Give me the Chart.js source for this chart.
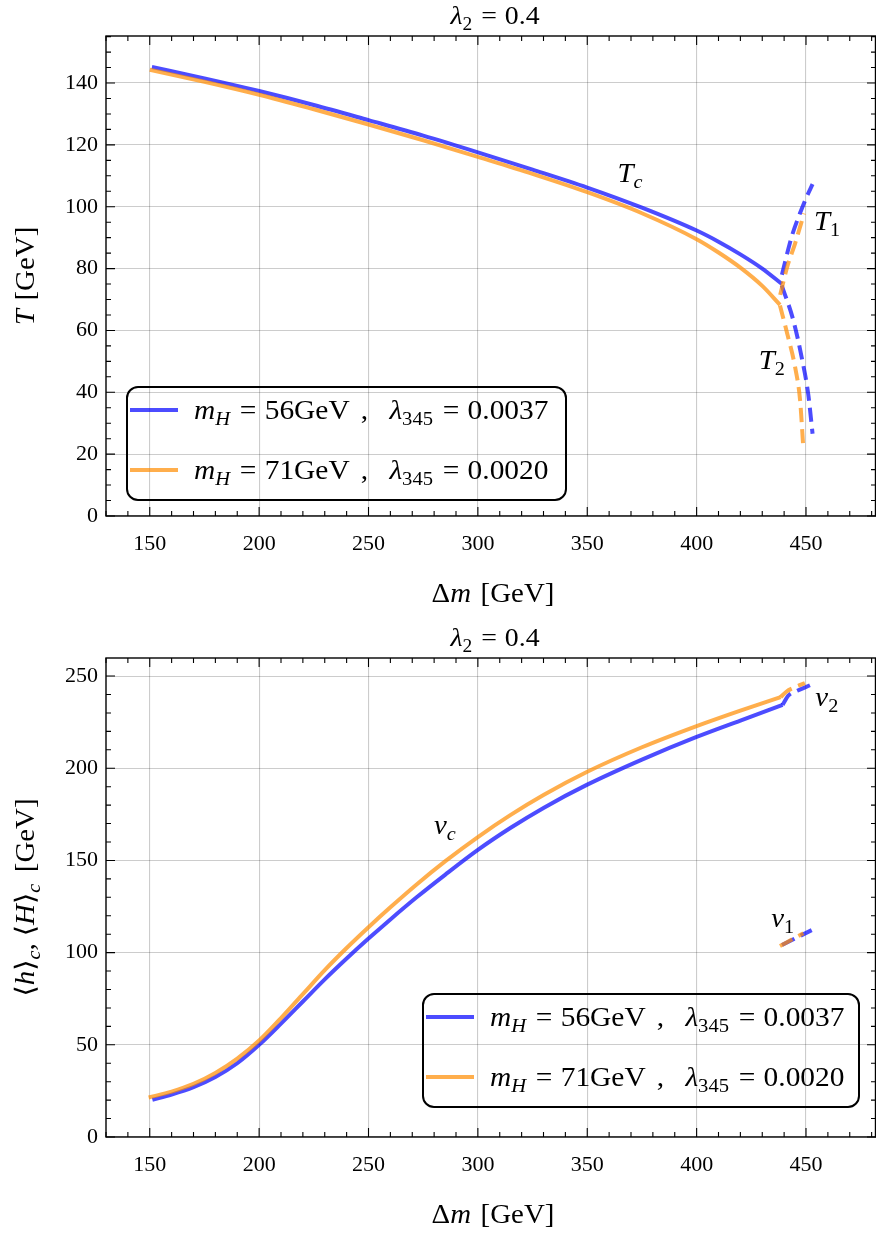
<!DOCTYPE html>
<html><head><meta charset="utf-8">
<script src="https://cdn.jsdelivr.net/npm/chart.js@4.4.1/dist/chart.umd.min.js"></script>
<style>html,body{margin:0;padding:0;background:#fff;}canvas{display:block;}</style>
</head><body>
<canvas id="c1" width="876" height="617"></canvas>
<canvas id="c2" width="876" height="617"></canvas>
<script>
// ---------- data ----------
const xTicks = [150, 200, 250, 300, 350, 400, 450];
const yTicksTop = [0, 20, 40, 60, 80, 100, 120, 140];
const yTicksBot = [0, 50, 100, 150, 200, 250];
const seriesMass = ['56', '71'];
const seriesLambda = ['0.0037', '0.0020'];

// top panel: critical temperature Tc (solid), T1 / T2 (dashed)
const dmTcBlue = [151, 175, 200, 225, 250, 275, 300, 325, 350, 375, 400, 410, 420, 430, 439];
const TcBlue   = [145.2, 141.5, 137.4, 132.9, 128.0, 123.0, 117.6, 112.0, 106.2, 99.7, 92.3, 88.7, 84.6, 80.0, 75.0];
const dmTcOrange = [150, 175, 200, 225, 250, 275, 300, 325, 350, 375, 400, 410, 420, 430, 438.1];
const TcOrange   = [144.3, 140.4, 136.2, 131.5, 126.6, 121.5, 116.1, 110.6, 104.7, 97.9, 89.5, 85.2, 80.3, 74.4, 68.3];
const dmT1Blue = [439.0, 443.4, 447.2, 450.3, 453.0];
const T1Blue   = [78.0, 90.2, 97.8, 103.2, 107.3];
const dmT1Orange = [438.2, 441.4, 445.0, 449.1];
const T1Orange   = [71.5, 80.5, 88.1, 97.8];
const dmT2Blue = [438.9, 444.2, 448.0, 451.0, 453.0];
const T2Blue   = [74.6, 63.3, 51.4, 39.5, 26.6];
const dmT2Orange = [438.1, 441.4, 445.0, 447.3, 448.8];
const T2Orange   = [68.1, 59.0, 48.2, 37.4, 21.7];

// bottom panel: vc (solid), v1 / v2 (dashed)
const dmVcBlue = [151.2, 160, 170, 180, 190, 200, 210, 220, 230, 240, 250, 260, 272, 285, 300, 315, 330, 350, 375, 400, 420, 439.3];
const VcBlue   = [20.2, 23.0, 27.0, 32.5, 40.0, 50.0, 61.5, 73.5, 85.5, 96.8, 107.6, 118.0, 130.0, 142.2, 155.7, 167.7, 178.5, 191.1, 204.7, 217.0, 225.9, 234.4];
const dmVcOrange = [149.5, 160, 170, 180, 190, 200, 210, 220, 230, 240, 250, 260, 272, 285, 300, 315, 330, 350, 375, 400, 420, 438.4];
const VcOrange   = [21.4, 24.6, 28.8, 34.7, 42.5, 52.3, 64.5, 77.5, 90.5, 102.5, 113.8, 124.6, 137.0, 149.5, 162.7, 174.7, 185.5, 198.1, 211.4, 222.9, 231.3, 238.6];
const dmV2Blue = [439.3, 442.0, 446.0, 451.8];
const V2Blue   = [234.4, 239.5, 242.0, 245.0];
const dmV2Orange = [438.4, 441.0, 445.0, 449.5];
const V2Orange   = [238.6, 241.5, 244.0, 246.2];
const dmV1Blue = [439.0, 452.6];
const V1Blue   = [104.1, 112.2];
const dmV1Orange = [438.1, 448.8];
const V1Orange   = [103.6, 110.5];

// ---------- style ----------
const BLUE = 'rgba(0,0,255,0.7)';
const ORANGE = 'rgba(255,140,0,0.7)';
const FONT = '"Liberation Serif", "DejaVu Serif", serif';
const HK = 1.07; // horizontal widening to mimic Computer Modern proportions
const zip = (xs, ys) => xs.map((x, i) => ({x: x, y: ys[i]}));

function ds(label, xs, ys, color, dashed, order) {
  return {
    label: label, data: zip(xs, ys), borderColor: color, backgroundColor: color,
    borderWidth: 4, pointRadius: 0, borderDash: dashed ? [14, 7] : [],
    cubicInterpolationMode: 'monotone', fill: false, order: order
  };
}

function segW(ctx, s, size) {
  if (s.g !== undefined) return s.g * size;
  const fs = s.sub ? size * 0.7 : size;
  ctx.font = (s.it ? 'italic ' : '') + fs + 'px ' + FONT;
  return ctx.measureText(s.t).width;
}
function drawRich(ctx, segs, x, y, size, align) {
  let w = 0;
  for (const s of segs) w += segW(ctx, s, size);
  w *= HK;
  const x0 = align === 'center' ? x - w / 2 : (align === 'right' ? x - w : x);
  ctx.save();
  ctx.translate(x0, y); ctx.scale(HK, 1);
  ctx.textAlign = 'left'; ctx.textBaseline = 'alphabetic'; ctx.fillStyle = '#000';
  let cx = 0;
  for (const s of segs) {
    const sw = segW(ctx, s, size);
    if (s.g === undefined) ctx.fillText(s.t, cx, s.sub ? size * 0.22 : 0);
    cx += sw;
  }
  ctx.restore();
}
const EQ = [{g: 0.33}, {t: '='}, {g: 0.28}];
function legendSegs(i) {
  return [{t: 'm', it: 1}, {t: 'H', it: 1, sub: 1}].concat(EQ, [{t: seriesMass[i] + 'GeV'}, {g: 0.38}, {t: ','},
          {g: 0.72}, {t: 'λ', it: 1}, {t: '345', sub: 1}], EQ, [{t: seriesLambda[i]}]);
}

const decoPlugin = {
  id: 'deco',
  afterDraw(chart, args, o) {
    const ctx = chart.ctx, a = chart.chartArea;
    const xs = chart.scales.x, ys = chart.scales.y;
    ctx.save();
    // spines
    ctx.strokeStyle = '#000'; ctx.lineWidth = 1.4;
    ctx.strokeRect(a.left, a.top, a.right - a.left - 0.5, a.bottom - a.top);
    // ticks (inward, all four sides)
    ctx.lineWidth = 1.1;
    for (let v = 130; v <= 482; v += 10) {
      const px = xs.getPixelForValue(v);
      const L = v % 50 === 0 ? 9 : 5;
      ctx.beginPath();
      ctx.moveTo(px, a.bottom); ctx.lineTo(px, a.bottom - L);
      ctx.moveTo(px, a.top); ctx.lineTo(px, a.top + L);
      ctx.stroke();
    }
    for (let v = 0; v <= ys.max; v += o.yMinor) {
      const py = ys.getPixelForValue(v);
      const L = v % o.yMajor === 0 ? 9 : 5;
      ctx.beginPath();
      ctx.moveTo(a.left, py); ctx.lineTo(a.left + L, py);
      ctx.moveTo(a.right, py); ctx.lineTo(a.right - L, py);
      ctx.stroke();
    }
    const cxm = (a.left + a.right) / 2, cym = (a.top + a.bottom) / 2;
    // title
    drawRich(ctx, [{t: 'λ', it: 1}, {t: '2', sub: 1}].concat(EQ, [{t: '0.4'}]), cxm + 4, a.top - 12, 26, 'center');
    // x label
    drawRich(ctx, [{t: 'Δ'}, {t: 'm', it: 1}, {g: 0.33}, {t: '[GeV]'}], cxm + 2, a.bottom + 86, 27, 'center');
    // y label
    ctx.save(); ctx.translate(34, cym); ctx.rotate(-Math.PI / 2);
    drawRich(ctx, o.ylabel, 0, 0, 27, 'center');
    ctx.restore();
    // annotations
    for (const an of o.notes) {
      drawRich(ctx, an.segs, xs.getPixelForValue(an.x), ys.getPixelForValue(an.y) + 9, 27, 'center');
    }
    // legend
    const L = o.legend;
    const bx = L.right ? a.right - L.right - L.w : a.left + L.left;
    const by = a.bottom - L.bottom - L.h;
    ctx.beginPath();
    ctx.roundRect(bx, by, L.w, L.h, 11);
    ctx.lineWidth = 2; ctx.strokeStyle = '#000'; ctx.stroke();
    const cols = [BLUE, ORANGE];
    for (let i = 0; i < 2; i++) {
      const ly = by + 23 + i * 60;
      ctx.beginPath(); ctx.strokeStyle = cols[i]; ctx.lineWidth = 4;
      ctx.moveTo(bx + 3, ly); ctx.lineTo(bx + 51, ly); ctx.stroke();
      drawRich(ctx, legendSegs(i), bx + 67, ly + 9, 27.5, 'left');
    }
    ctx.restore();
  }
};

function makeChart(id, datasets, yMax, yTicks, yMinor, yMajor, padTop, xHeight, deco) {
  return new Chart(document.getElementById(id), {
    type: 'line',
    data: {datasets: datasets},
    plugins: [decoPlugin],
    options: {
      responsive: false, animation: false, devicePixelRatio: 1,
      layout: {padding: {top: padTop, left: 0, right: 0, bottom: 0}},
      plugins: {legend: {display: false}, tooltip: {enabled: false}, deco: Object.assign({yMinor: yMinor, yMajor: yMajor}, deco)},
      scales: {
        x: {
          type: 'linear', min: 130, max: 482,
          afterBuildTicks: s => { s.ticks = xTicks.map(v => ({value: v})); },
          afterFit: s => { s.height = xHeight; },
          grid: {color: 'rgba(0,0,0,0.2)', lineWidth: 1.1, drawTicks: false},
          border: {display: false},
          ticks: {font: {family: FONT, size: 22}, color: '#000', padding: 15, maxRotation: 0}
        },
        y: {
          type: 'linear', min: 0, max: yMax,
          afterBuildTicks: s => { s.ticks = yTicks.map(v => ({value: v})); },
          afterFit: s => { s.width = 106; },
          grid: {color: 'rgba(0,0,0,0.2)', lineWidth: 1.1, drawTicks: false},
          border: {display: false},
          ticks: {font: {family: FONT, size: 22}, color: '#000', padding: 8}
        }
      }
    }
  });
}

const labB = 'mH=' + seriesMass[0], labO = 'mH=' + seriesMass[1];
makeChart('c1', [
  ds(labB, dmTcBlue, TcBlue, BLUE, false, 3),
  ds(labB, dmT1Blue, T1Blue, BLUE, true, 3),
  ds(labB, dmT2Blue, T2Blue, BLUE, true, 3),
  ds(labO, dmTcOrange, TcOrange, ORANGE, false, 1),
  ds(labO, dmT1Orange, T1Orange, ORANGE, true, 1),
  ds(labO, dmT2Orange, T2Orange, ORANGE, true, 1)
], 155.2, yTicksTop, 5, 20, 36, 101, {
  ylabel: [{t: 'T', it: 1}, {g: 0.3}, {t: '[GeV]'}],
  notes: [
    {segs: [{t: 'T', it: 1}, {t: 'c', it: 1, sub: 1}], x: 369.5, y: 110.8},
    {segs: [{t: 'T', it: 1}, {t: '1', sub: 1}], x: 459.6, y: 95.3},
    {segs: [{t: 'T', it: 1}, {t: '2', sub: 1}], x: 434.4, y: 50.3}
  ],
  legend: {left: 21, bottom: 16, w: 439, h: 113}
});

makeChart('c2', [
  ds(labB, dmVcBlue, VcBlue, BLUE, false, 3),
  ds(labB, dmV2Blue, V2Blue, BLUE, true, 3),
  ds(labB, dmV1Blue, V1Blue, BLUE, true, 3),
  ds(labO, dmVcOrange, VcOrange, ORANGE, false, 1),
  ds(labO, dmV2Orange, V2Orange, ORANGE, true, 1),
  ds(labO, dmV1Orange, V1Orange, ORANGE, true, 1)
], 259.8, yTicksBot, 10, 50, 41, 97, {
  ylabel: [{t: '⟨'}, {t: 'h', it: 1}, {t: '⟩'}, {t: 'c', it: 1, sub: 1}, {t: ','}, {g: 0.25}, {t: '⟨'}, {t: 'H', it: 1}, {t: '⟩'}, {t: 'c', it: 1, sub: 1}, {g: 0.4}, {t: '[GeV]'}],
  notes: [
    {segs: [{t: 'v', it: 1}, {t: 'c', it: 1, sub: 1}], x: 284.9, y: 169.1},
    {segs: [{t: 'v', it: 1}, {t: '2', sub: 1}], x: 459.5, y: 238.6},
    {segs: [{t: 'v', it: 1}, {t: '1', sub: 1}], x: 439.3, y: 118.7}
  ],
  legend: {right: 17, bottom: 30, w: 436, h: 113}
});
</script>
</body></html>
